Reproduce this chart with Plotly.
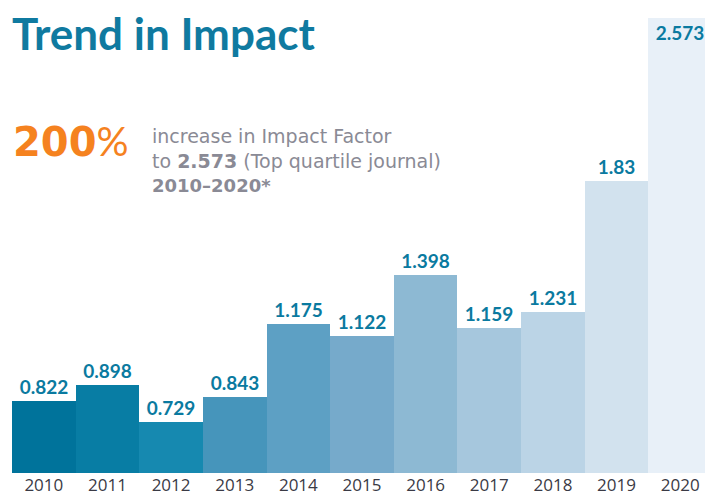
import plotly.graph_objects as go

years = ["2010", "2011", "2012", "2013", "2014", "2015", "2016", "2017", "2018", "2019", "2020"]
impact = [0.822, 0.898, 0.729, 0.843, 1.175, 1.122, 1.398, 1.159, 1.231, 1.83, 2.573]
bar_colors = ["#00739b", "#087da4", "#1689b0", "#4695bb", "#5da0c4", "#76aacb",
              "#8db9d3", "#a6c7dd", "#bbd4e6", "#d2e2ee", "#e8f0f8"]
label_pos = ["outside"] * 10 + ["inside"]

W, H = 705, 495
L, B, T = 12, 22, 0
plot_w = W - L
plot_h = H - B - T

def px(x):
    return (x - L) / plot_w

def py(y):
    return (H - B - y) / plot_h

lab_font = dict(family="Lato", size=19, color="#0a7aa0")

fig = go.Figure()
fig.add_trace(go.Bar(
    x=years, y=impact,
    marker=dict(color=bar_colors, line=dict(width=0)),
    width=1.0,
    text=[str(v) for v in impact],
    texttemplate="<b>%{text}</b>",
    textposition=label_pos,
    insidetextanchor="end",
    textfont=lab_font,
    insidetextfont=lab_font,
    outsidetextfont=lab_font,
    cliponaxis=False,
    hoverinfo="skip",
))

fig.update_layout(
    width=W, height=H,
    margin=dict(l=L, r=0, t=T, b=B, pad=0, autoexpand=False),
    paper_bgcolor="white", plot_bgcolor="white",
    showlegend=False,
    bargap=0,
    xaxis=dict(type="category", range=[-0.5, 10.39], showgrid=False, showline=False,
               zeroline=False, ticks="", ticklabelstandoff=0,
               tickfont=dict(family="Open Sans", size=17, color="#3a3a45")),
    yaxis=dict(range=[0.495, 0.495 + plot_h / 219.0], visible=False, fixedrange=True),
)

gray = "#8a8a95"
annotations = [
    dict(text="<b>Trend in Impact</b>", x=px(10), y=py(33), xanchor="left", yanchor="middle",
         font=dict(family="Lato", size=44, color="#0f7aa0")),
    dict(text="<b>200</b><span style='font-family:Lato;font-weight:normal'>%</span>", x=px(11), y=py(141),
         xanchor="left", yanchor="middle",
         font=dict(family="DejaVu Sans", size=40, color="#f5821f")),
    dict(text="increase in Impact Factor<br>to <b>2.573</b> (Top quartile journal)<br>"
              "<b><span style='font-size:18px'>2010–2020*</span></b>",
         x=px(150), y=py(123), xanchor="left", yanchor="top", align="left",
         font=dict(family="DejaVu Sans", size=19, color=gray)),
]
for a in annotations:
    a.update(xref="paper", yref="paper", showarrow=False)
fig.update_layout(annotations=annotations)

fig.write_html("out.html", post_script="document.body.style.margin='0';",
               config={"displayModeBar": False})
